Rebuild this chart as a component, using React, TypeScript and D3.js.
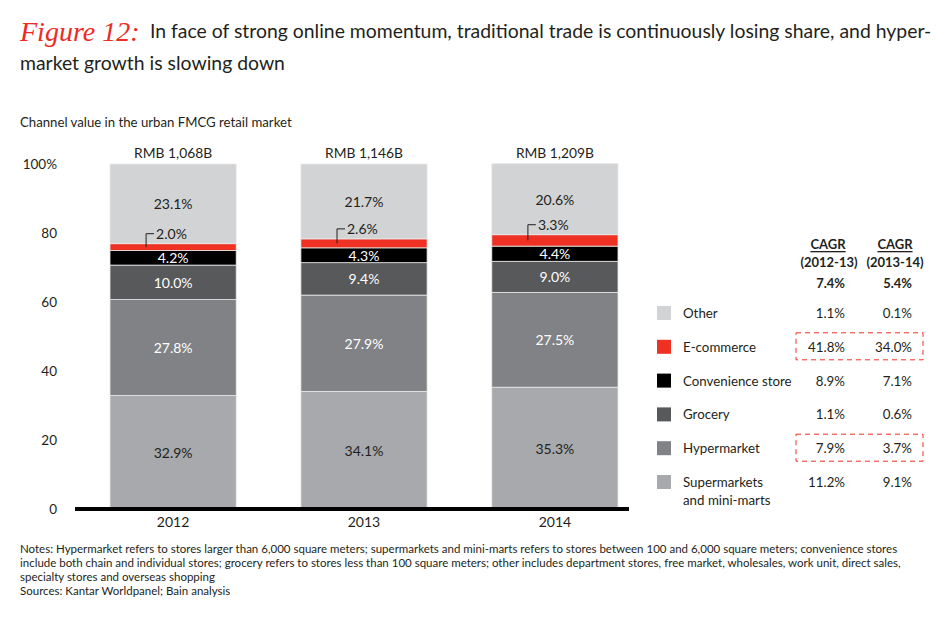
import React from 'react';
import * as d3 from 'd3';

const years = ['2012', '2013', '2014'];
const totals = ['RMB 1,068B', 'RMB 1,146B', 'RMB 1,209B'];
const channels = ['Supermarkets and mini-marts', 'Hypermarket', 'Grocery', 'Convenience store', 'E-commerce', 'Other'];
const supermarkets = [32.9, 34.1, 35.3];
const hypermarket = [27.8, 27.9, 27.5];
const grocery = [10.0, 9.4, 9.0];
const convenience = [4.2, 4.3, 4.4];
const ecommerce = [2.0, 2.6, 3.3];
const other = [23.1, 21.7, 20.6];
const cagr1213 = [11.2, 7.9, 1.1, 8.9, 41.8, 1.1];
const cagr1314 = [9.1, 3.7, 0.6, 7.1, 34.0, 0.1];
const cagrTotal = [7.4, 5.4];
const yTicks = [0, 20, 40, 60, 80, 100];

const colors = ['#a7a9ac', '#808285', '#58595b', '#000000', '#ef3124', '#d1d3d4'];
const labelColors = ['#231f20', '#ffffff', '#ffffff', '#ffffff', '#231f20', '#231f20'];

const series = [supermarkets, hypermarket, grocery, convenience, ecommerce, other];
const rows = years.map((yr, i) => {
  const r: any = { year: yr };
  channels.forEach((c, k) => (r[c] = series[k][i]));
  return r;
});

const FONT = 'Lato, "Open Sans", sans-serif';

export default function App() {
  const x = d3.scaleBand().domain(years).range([110, 618]).paddingInner(0.339).paddingOuter(0);
  const y = d3.scaleLinear().domain([0, 100]).range([509, 164]);
  const stacked = d3.stack<any>().keys(channels)(rows);

  const legendY = d3.scaleLinear().domain([0, 5]).range([313, 482]);
  const legendOrder = [5, 4, 3, 2, 1, 0];
  const col1 = 845;
  const col2 = 912;

  const fmt = (v: number) => v.toFixed(1) + '%';

  return (
    <svg width={950} height={623} style={{ position: 'absolute', left: 0, top: 0, background: '#fff' }} fontFamily={FONT}>
      {/* Title */}
      <text x={20} y={31} dominantBaseline="central" fill="#ee2a24" fontSize={28} fontStyle="italic" fontFamily='"Liberation Serif", serif'>
        Figure 12:
      </text>
      <text x={150} y={30} dominantBaseline="central" fill="#231f20" fontSize={19.4}>
        In face of strong online momentum, traditional trade is continuously losing share, and hyper-
      </text>
      <text x={20} y={62} dominantBaseline="central" fill="#231f20" fontSize={19.4}>
        market growth is slowing down
      </text>

      <text x={20} y={122} dominantBaseline="central" fill="#231f20" fontSize={13.2}>
        Channel value in the urban FMCG retail market
      </text>

      {/* Y ticks */}
      {yTicks.map((t) => (
        <text key={t} x={57} y={y(t)} dominantBaseline="central" textAnchor="end" fontSize={13.5} fill="#231f20">
          {t === 100 ? '100%' : t}
        </text>
      ))}

      {/* Bars */}
      {stacked.map((s, k) => (
        <g key={channels[k]}>
          {s.map((d, i) => (
            <rect
              key={i}
              x={x(years[i])}
              width={x.bandwidth()}
              y={y(d[1])}
              height={y(d[0]) - y(d[1])}
              fill={colors[k]}
              stroke="#e8e8e8"
              strokeWidth={0.8}
            />
          ))}
        </g>
      ))}

      {/* Segment labels */}
      {stacked.map((s, k) =>
        s.map((d, i) => {
          const cx = (x(years[i]) as number) + x.bandwidth() / 2;
          if (k === 4) {
            const top = y(d[1]);
            const mid = (y(d[0]) + y(d[1])) / 2;
            const ly = top - 10;
            const bx = cx - 27;
            return (
              <g key={k + '-' + i}>
                <path d={`M${bx},${mid} V${ly} H${bx + 8}`} fill="none" stroke="#231f20" strokeWidth={1} />
                <text x={bx + 10} y={ly} dominantBaseline="central" fontSize={14} fill={labelColors[k]}>
                  {fmt(series[k][i])}
                </text>
              </g>
            );
          }
          return (
            <text
              key={k + '-' + i}
              x={cx}
              y={(y(d[0]) + y(d[1])) / 2}
              dominantBaseline="central"
              textAnchor="middle"
              fontSize={14}
              fill={labelColors[k]}
            >
              {fmt(series[k][i])}
            </text>
          );
        })
      )}

      {/* totals above bars */}
      {years.map((yr, i) => (
        <text key={yr} x={(x(yr) as number) + x.bandwidth() / 2} y={152} dominantBaseline="central" textAnchor="middle" fontSize={13.8} fill="#231f20">
          {totals[i]}
        </text>
      ))}

      {/* axis */}
      <line x1={75} x2={629} y1={y(0)} y2={y(0)} stroke="#000" strokeWidth={4} />
      {years.map((yr) => (
        <text key={yr} x={(x(yr) as number) + x.bandwidth() / 2} y={521} dominantBaseline="central" textAnchor="middle" fontSize={14} fill="#231f20">
          {yr}
        </text>
      ))}

      {/* CAGR header */}
      <text x={828} y={244} dominantBaseline="central" textAnchor="middle" fontSize={13} fontWeight={700} fill="#231f20" textDecoration="underline">CAGR</text>
      <text x={895} y={244} dominantBaseline="central" textAnchor="middle" fontSize={13} fontWeight={700} fill="#231f20" textDecoration="underline">CAGR</text>
      <text x={829} y={262} dominantBaseline="central" textAnchor="middle" fontSize={13} fontWeight={700} fill="#231f20">(2012-13)</text>
      <text x={895} y={262} dominantBaseline="central" textAnchor="middle" fontSize={13} fontWeight={700} fill="#231f20">(2013-14)</text>
      <text x={col1} y={283} dominantBaseline="central" textAnchor="end" fontSize={13} fontWeight={700} fill="#231f20">{fmt(cagrTotal[0])}</text>
      <text x={col2} y={283} dominantBaseline="central" textAnchor="end" fontSize={13} fontWeight={700} fill="#231f20">{fmt(cagrTotal[1])}</text>

      {/* Legend rows */}
      {legendOrder.map((k, r) => {
        const ly = legendY(r);
        const name = channels[k];
        const lines = k === 0 ? ['Supermarkets', 'and mini-marts'] : [name];
        return (
          <g key={name}>
            <rect x={657} y={ly - 7} width={14} height={14} fill={colors[k]} />
            {lines.map((ln, j) => (
              <text key={j} x={683} y={ly + j * 18} dominantBaseline="central" fontSize={13.3} fill="#231f20">{ln}</text>
            ))}
            <text x={col1} y={ly} dominantBaseline="central" textAnchor="end" fontSize={13.3} fill="#231f20">{fmt(cagr1213[k])}</text>
            <text x={col2} y={ly} dominantBaseline="central" textAnchor="end" fontSize={13.3} fill="#231f20">{fmt(cagr1314[k])}</text>
          </g>
        );
      })}

      {/* dashed highlight boxes */}
      {[4, 1].map((k) => {
        const r = legendOrder.indexOf(k);
        const ly = legendY(r);
        return <rect key={k} x={796} y={ly - 14} width={127} height={27} fill="none" stroke="#ef3124" strokeWidth={1} strokeDasharray="5,4" />;
      })}

      {/* Notes */}
      <g fontSize={11.5} fill="#231f20">
        <text x={20} y={548} dominantBaseline="central">Notes: Hypermarket refers to stores larger than 6,000 square meters; supermarkets and mini-marts refers to stores between 100 and 6,000 square meters; convenience stores</text>
        <text x={20} y={562} dominantBaseline="central">include both chain and individual stores; grocery refers to stores less than 100 square meters; other includes department stores, free market, wholesales, work unit, direct sales,</text>
        <text x={20} y={576} dominantBaseline="central">specialty stores and overseas shopping</text>
        <text x={20} y={590} dominantBaseline="central">Sources: Kantar Worldpanel; Bain analysis</text>
      </g>
    </svg>
  );
}
